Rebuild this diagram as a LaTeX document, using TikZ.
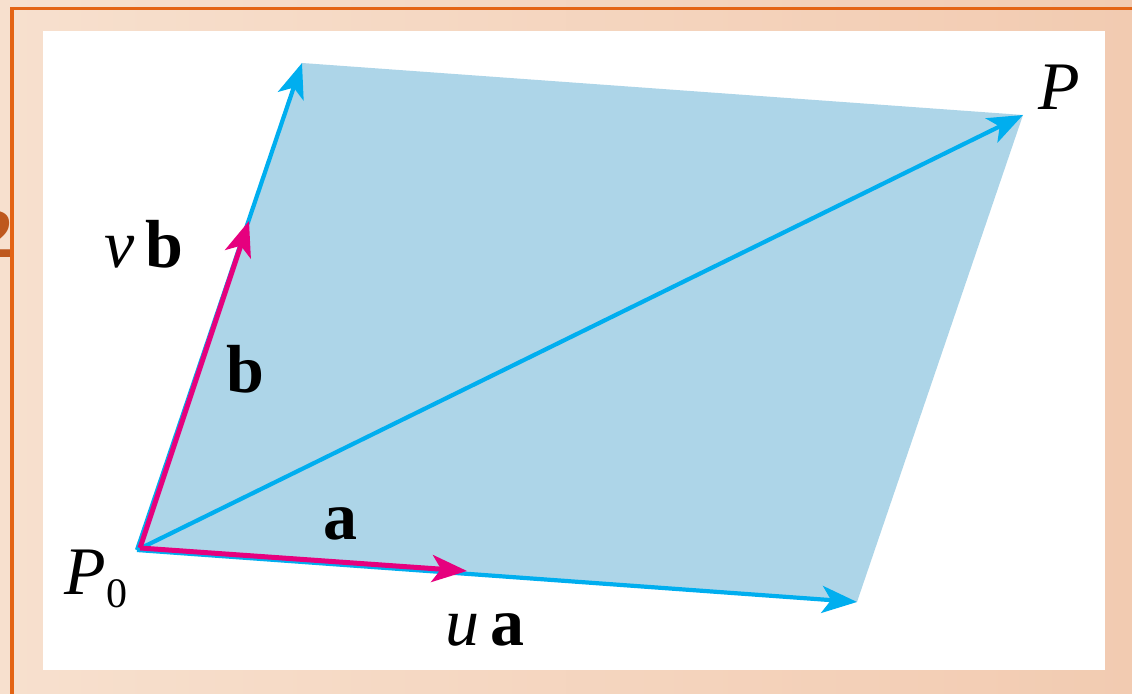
\documentclass[tikz,border=0pt]{standalone}
\usepackage{fontspec}
\setmainfont{Liberation Serif}
\usetikzlibrary{arrows.meta}
\definecolor{peachL}{RGB}{247,224,206}
\definecolor{peachR}{RGB}{242,203,177}
\definecolor{frameorange}{RGB}{228,100,20}
\definecolor{glyphbrown}{RGB}{190,88,30}
\definecolor{fillblue}{RGB}{173,213,232}
\definecolor{lineblue}{RGB}{0,174,239}
\definecolor{vecpink}{RGB}{230,0,126}
\begin{document}
\begin{tikzpicture}[x=0.5pt,y=-0.5pt,
  tipshape/.style={-{Stealth[length=17.5pt,width=13.5pt,inset=4.5pt]}},
  bluevec/.style={draw=lineblue, line width=2.1pt, tipshape},
  pinkvec/.style={draw=vecpink, line width=2.5pt, tipshape},
  lbl/.style={font=\fontsize{34}{40}\selectfont, anchor=base, inner sep=0pt}]
\useasboundingbox (0,0) rectangle (1132,694);
\shade[left color=peachL, right color=peachR] (0,0) rectangle (1132,694);
\begin{scope}
  \clip (0,0) rectangle (1132,694);
  \node[anchor=base east, inner sep=0pt, text=glyphbrown, font=\fontsize{35}{40}\selectfont\bfseries] (frag) at (14,258) {2};
\end{scope}
\draw[frameorange, line width=1.6pt] (12,694) -- (12,8.5) -- (1132,8.5);
\fill[white] (43,31) rectangle (1105,670);
% geometry
\coordinate (P0) at (137,550);
\coordinate (UA) at (857,602);
\coordinate (VB) at (302,63);
\coordinate (P) at (1023,115);
\coordinate (Q0) at (140,548);
\coordinate (A) at (467,571);
\coordinate (B) at (249,221);
\fill[fillblue] (P0) -- (UA) -- (P) -- (VB) -- cycle;
\draw[bluevec] (P0) -- (UA);
\draw[bluevec] (P0) -- (VB);
\draw[bluevec] (P0) -- (P);
\draw[pinkvec] (Q0) -- (A);
\draw[pinkvec] (Q0) -- (B);
% labels
\node[lbl] (lvb) at (144,268) {\textit{v}\,\textbf{b}};
\node[lbl] (lb) at (245,393) {\textbf{b}};
\node[lbl] (la) at (340,540) {\textbf{a}};
\node[lbl] (lua) at (485,646) {\textit{u}\,\textbf{a}};
\node[lbl] (lP) at (1059,110) {\textit{P}};
\node[lbl] (lP0) at (96,595) {\textit{P}\raisebox{-6.5pt}{\fontsize{21}{24}\selectfont 0}};
\end{tikzpicture}
\end{document}
